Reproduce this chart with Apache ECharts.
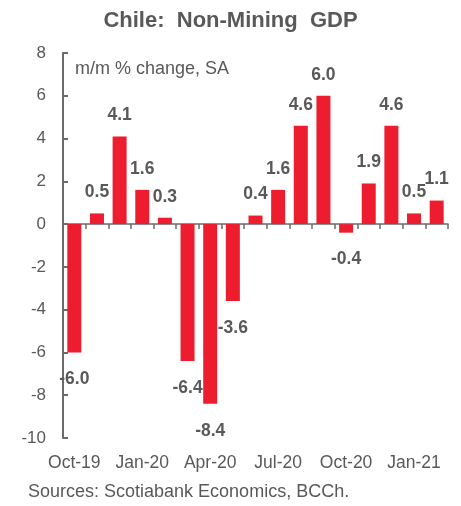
<!DOCTYPE html>
<html>
<head>
<meta charset="utf-8">
<script src="https://cdn.jsdelivr.net/npm/echarts@6/dist/echarts.min.js"></script>
<style>
  html, body { margin: 0; padding: 0; background: #fff; }
  #chart { width: 461px; height: 506px; }
</style>
</head>
<body>
<div id="chart"></div>
<script>
const categories = ['Oct-19','Nov-19','Dec-19','Jan-20','Feb-20','Mar-20','Apr-20','May-20','Jun-20','Jul-20','Aug-20','Sep-20','Oct-20','Nov-20','Dec-20','Jan-21','Feb-21'];
const values = [-6.0, 0.5, 4.1, 1.6, 0.3, -6.4, -8.4, -3.6, 0.4, 1.6, 4.6, 6.0, -0.4, 1.9, 4.6, 0.5, 1.1];
const yTicks = [-10, -8, -6, -4, -2, 0, 2, 4, 6, 8];
const titleText = 'Chile:  Non-Mining  GDP';
const unitText = 'm/m % change, SA';
const sourceText = 'Sources: Scotiabank Economics, BCCh.';

const FONT = '"Liberation Sans", Arial, sans-serif';
const GREY = '#595959';
const AXIS = '#6b6b6b';
const RED = '#ED1C2E';

const chart = echarts.init(document.getElementById('chart'), null, { renderer: 'canvas' });

const seriesData = values.map(v => ({
  value: v,
  label: {
    position: v >= 0 ? 'top' : 'bottom',
    distance: v >= 0 ? 12 : 18
  }
}));

chart.setOption({
  animation: false,
  backgroundColor: '#ffffff',
  title: {
    text: titleText,
    left: 'center',
    top: 5,
    textStyle: { fontFamily: FONT, fontSize: 22, fontWeight: 'bold', color: GREY }
  },
  graphic: [
    {
      type: 'text', left: 75, top: 60,
      style: { text: unitText, fontFamily: FONT, fontSize: 18, fill: GREY }
    },
    {
      type: 'text', left: 28, top: 483,
      style: { text: sourceText, fontFamily: FONT, fontSize: 18, fill: GREY }
    }
  ],
  grid: { left: 63, right: 13, top: 53, bottom: 68, containLabel: false },
  xAxis: [
    {
      type: 'category',
      data: categories,
      position: 'bottom',
      axisLine: { show: true, onZero: true, lineStyle: { color: AXIS, width: 1.5 } },
      axisTick: { show: true, interval: 0, length: 5, alignWithLabel: false, lineStyle: { color: AXIS, width: 1.5 } },
      axisLabel: { show: false },
      splitLine: { show: false }
    },
    {
      type: 'category',
      data: categories,
      position: 'bottom',
      axisLine: { show: false, onZero: false },
      axisTick: { show: false },
      axisLabel: {
        show: true, interval: 2, margin: 16,
        fontFamily: FONT, fontSize: 17.5, color: GREY
      },
      splitLine: { show: false }
    }
  ],
  yAxis: {
    type: 'value',
    min: yTicks[0],
    max: yTicks[yTicks.length - 1],
    interval: 2,
    axisLine: { show: true, lineStyle: { color: AXIS, width: 2 } },
    axisTick: { show: true, inside: true, length: 5, lineStyle: { color: AXIS, width: 2 } },
    axisLabel: { fontFamily: FONT, fontSize: 17, color: GREY, margin: 17 },
    splitLine: { show: false }
  },
  series: [{
    type: 'bar',
    xAxisIndex: 0,
    data: seriesData,
    barWidth: 14,
    itemStyle: { color: RED },
    label: {
      show: true,
      fontFamily: FONT, fontSize: 17.5, fontWeight: 'bold', color: GREY,
      formatter: p => p.value.toFixed(1)
    }
  }]
});
</script>
</body>
</html>
